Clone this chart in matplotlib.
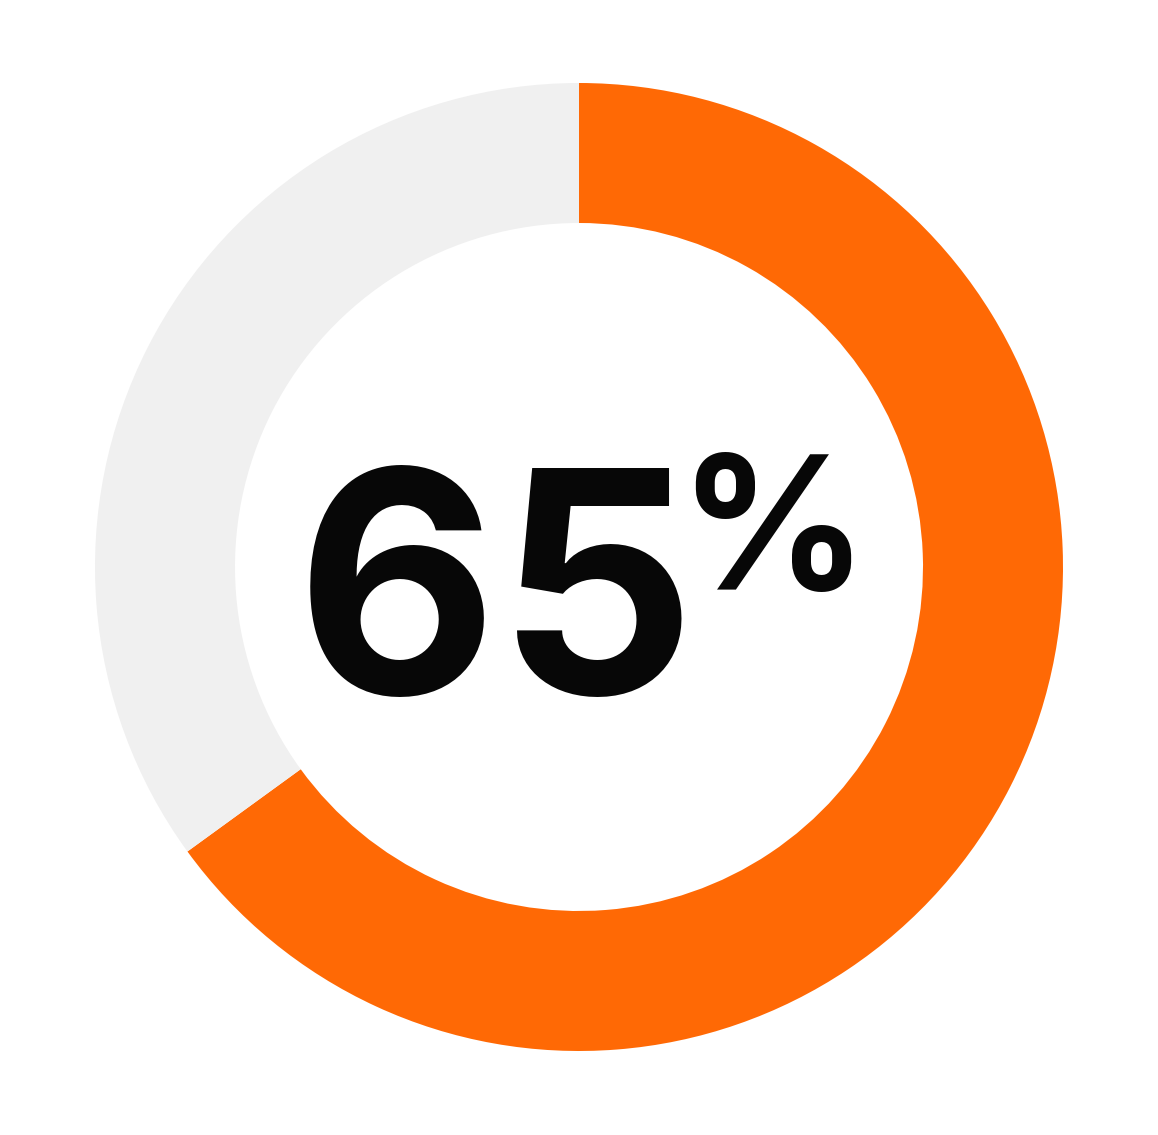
import matplotlib
matplotlib.use("Agg")
import matplotlib.pyplot as plt

# donut data
shares = [65, 35]
colors = ["#FF6905", "#F0F0F0"]
big_label = "65"
pct_sign = "%"

W, H = 1158, 1135
fig = plt.figure(figsize=(W / 100, H / 100), dpi=100)
ax = fig.add_axes([0, 0, 1, 1])

cx, cy = 579, H - 567
ax.pie(shares, colors=colors, startangle=90, counterclock=False,
       center=(cx, cy), radius=484, frame=True,
       wedgeprops=dict(width=140, linewidth=0))
ax.set_xlim(0, W)
ax.set_ylim(0, H)
ax.set_aspect("equal")
ax.axis("off")

ax.text(496, H - 694, big_label, fontsize=224, fontweight="bold",
        family=["Inter", "DejaVu Sans"], color="#070707",
        ha="center", va="baseline")
ax.text(773, H - 590, pct_sign, fontsize=134, fontweight="bold",
        family=["Inter", "DejaVu Sans"], color="#070707",
        ha="center", va="baseline")

fig.savefig("out.png", dpi=100, facecolor="white")
